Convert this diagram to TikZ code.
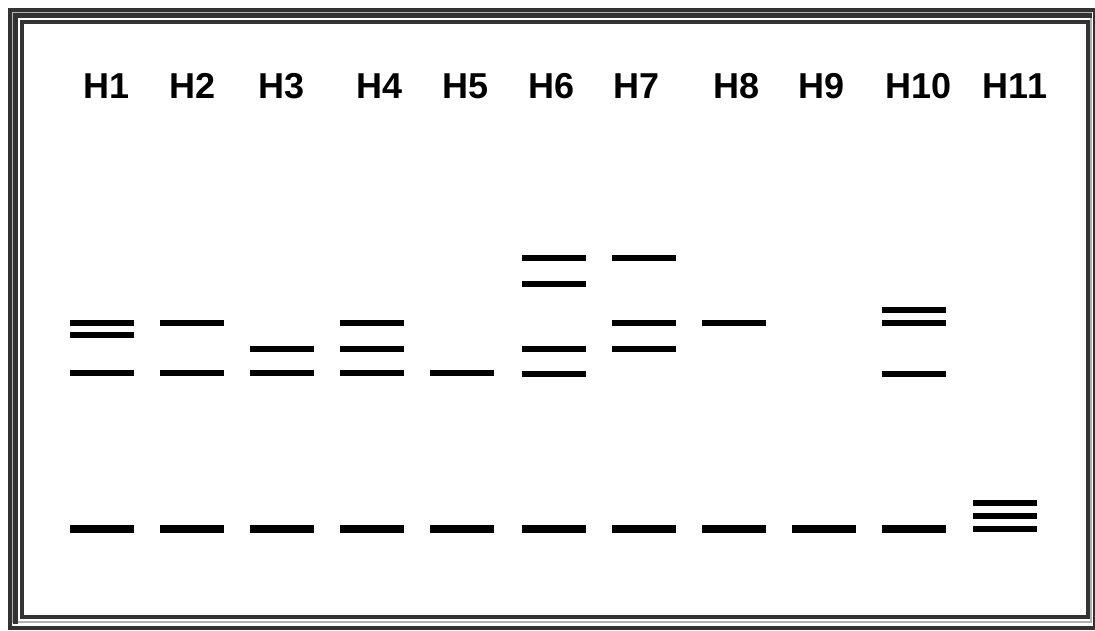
\documentclass[tikz,border=0pt]{standalone}
\usepackage{fontspec}
\setmainfont{Liberation Sans}
\usepackage{tikz}
\usetikzlibrary{positioning}

\begin{document}
\begin{tikzpicture}[
  x=1pt, y=-1pt,
  % Gel styles
  lanelabel/.style={
    inner sep=0pt, anchor=base,
    font=\fontsize{36}{40}\selectfont\bfseries
  },
  band/.style={line width=5.5pt, black},
  mainband/.style={line width=8pt, black},
  lowband/.style={line width=6.5pt, black},
  frame/.style={draw=black!80},
  ridge/.style={draw=black!30, line width=1.5pt}
]
\useasboundingbox (0,0) rectangle (1095,630);
\fill[white] (0,0) rectangle (1095,630);

% Frame
\draw[frame, line width=4pt] (10,10) rectangle (1095,628);
\draw[ridge] (12.5,12.5) rectangle (1091,622);
\draw[frame, line width=5pt] (15.5,624) -- (15.5,15.5) -- (1092,15.5);
\draw[frame, line width=4pt] (22,22) rectangle (1087.5,617);

% Lane labels
\node[lanelabel] (h1) at (107,98) {H1};
\node[lanelabel] (h2) at (193,98) {H2};
\node[lanelabel] (h3) at (282,98) {H3};
\node[lanelabel] (h4) at (380,98) {H4};
\node[lanelabel] (h5) at (466,98) {H5};
\node[lanelabel] (h6) at (552,98) {H6};
\node[lanelabel] (h7) at (637,98) {H7};
\node[lanelabel] (h8) at (737,98) {H8};
\node[lanelabel] (h9) at (822,98) {H9};
\node[lanelabel] (h10) at (919,98) {H10};
\node[lanelabel] (h11) at (1015,98) {H11};

% Upper bands
\draw[band] (70,323) -- (134,323);
\draw[band] (70,335) -- (134,335);
\draw[band] (70,373) -- (134,373);

\draw[band] (160,323) -- (224,323);
\draw[band] (160,373) -- (224,373);

\draw[band] (250,349) -- (314,349);
\draw[band] (250,373) -- (314,373);

\draw[band] (340,323) -- (404,323);
\draw[band] (340,349) -- (404,349);
\draw[band] (340,373) -- (404,373);

\draw[band] (430,373) -- (494,373);

\draw[band] (522,258) -- (586,258);
\draw[band] (522,284) -- (586,284);
\draw[band] (522,349) -- (586,349);
\draw[band] (522,374) -- (586,374);

\draw[band] (612,258) -- (676,258);
\draw[band] (612,323) -- (676,323);
\draw[band] (612,349) -- (676,349);

\draw[band] (702,323) -- (766,323);

\draw[band] (882,310) -- (946,310);
\draw[band] (882,323) -- (946,323);
\draw[band] (882,374) -- (946,374);

% Lower bands
\draw[mainband] (70,529) -- (134,529);
\draw[mainband] (160,529) -- (224,529);
\draw[mainband] (250,529) -- (314,529);
\draw[mainband] (340,529) -- (404,529);
\draw[mainband] (430,529) -- (494,529);
\draw[mainband] (522,529) -- (586,529);
\draw[mainband] (612,529) -- (676,529);
\draw[mainband] (702,529) -- (766,529);
\draw[mainband] (792,529) -- (856,529);
\draw[mainband] (882,529) -- (946,529);

\draw[lowband] (973,503) -- (1037,503);
\draw[lowband] (973,516) -- (1037,516);
\draw[lowband] (973,529) -- (1037,529);

\end{tikzpicture}
\end{document}
